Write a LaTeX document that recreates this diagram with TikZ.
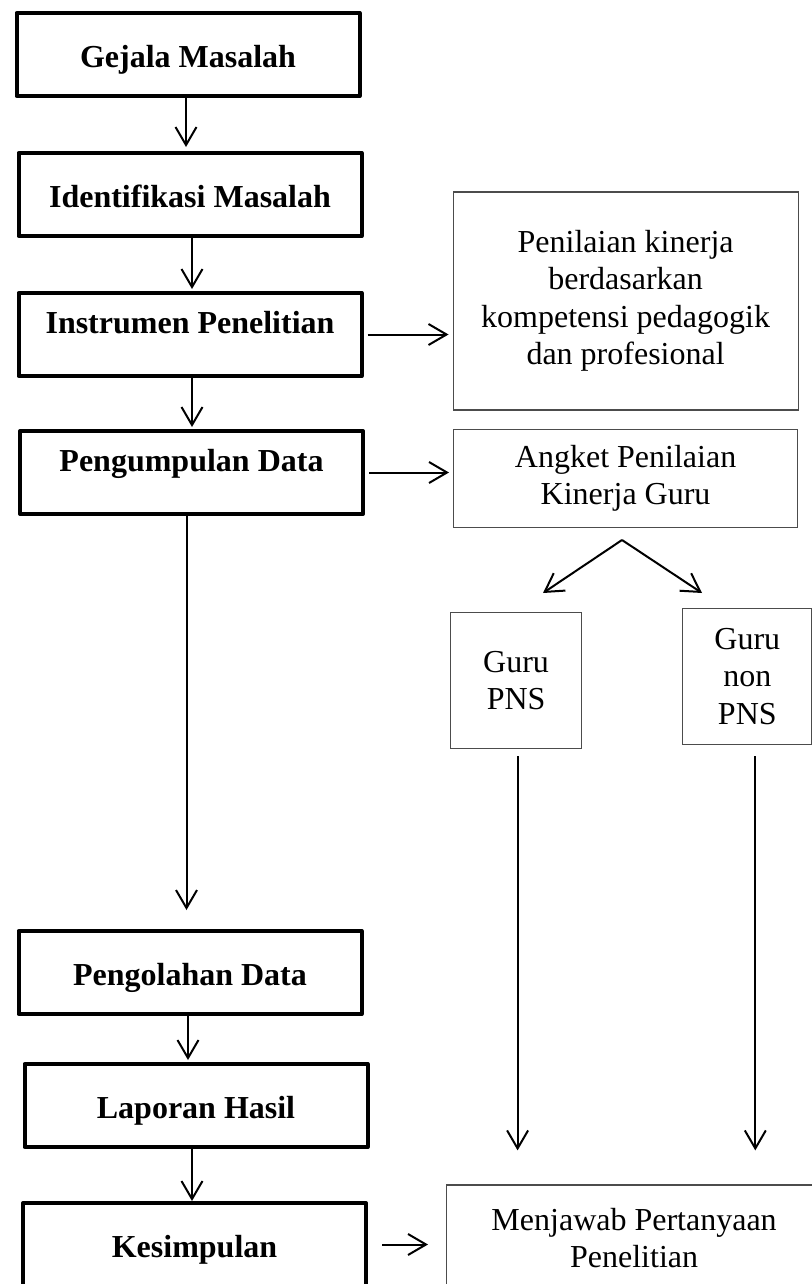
\documentclass[tikz,border=0pt]{standalone}
\usepackage{fontspec}
\setmainfont{Liberation Serif}
\usetikzlibrary{positioning}
\usetikzlibrary{arrows.meta}

\begin{document}
\begin{tikzpicture}[x=0.5pt,y=-0.5pt,
      font=\fontsize{16}{18.75}\selectfont,
      main style/.style={rectangle,draw=black,line width=2pt,line join=round,
        minimum width=171.5pt,minimum height=41.5pt,inner sep=0pt,
        font=\fontsize{16}{18.75}\selectfont\bfseries,text height=14pt,text depth=1pt},
      info style/.style={rectangle,draw=black!70,line width=0.6pt,align=center,
        inner sep=0pt},
      flow/.style={line width=1pt,-{Straight Barb[length=9pt,width=10.5pt]}}
      ]
      \useasboundingbox (0,0) rectangle (812,1284);
      \clip (0,0) rectangle (812,1284);

      % main column
      \node[main style] (gejala) at (188,54.5) {Gejala Masalah};
      \node[main style,below=26.5pt of gejala,xshift=1pt] (identifikasi) {Identifikasi Masalah};
      \node[main style,text depth=15pt,below=26.5pt of identifikasi] (instrumen) {Instrumen Penelitian};
      \node[main style,text depth=15pt,below=25.5pt of instrumen,xshift=0.75pt] (pengumpulan) {Pengumpulan Data};
      \node[main style,below=206.5pt of pengumpulan,xshift=-0.75pt] (pengolahan) {Pengolahan Data};
      \node[main style,below=23pt of pengolahan,xshift=3pt] (laporan) {Laporan Hasil};
      \node[main style,below=26pt of laporan,xshift=-0.75pt] (kesimpulan) {Kesimpulan};

      % right column
      \node[info style,minimum width=172.5pt,minimum height=109pt,
        right=44.5pt of instrumen,yshift=16.75pt] (penilaian)
        {Penilaian kinerja\\berdasarkan\\kompetensi pedagogik\\dan profesional};
      \node[info style,minimum width=172pt,minimum height=49pt,
        below=9pt of penilaian] (angket) {Angket Penilaian\\Kinerja Guru};
      \node[info style,minimum width=65.5pt,minimum height=68pt,
        below=42pt of angket.south west,anchor=north west,xshift=-1.5pt] (pns) {Guru\\PNS};
      \node[info style,minimum width=64.5pt,minimum height=68pt,
        right=50pt of pns,yshift=2pt] (nonpns) {Guru\\non\\PNS};
      \node[info style,minimum width=187.5pt,minimum height=53pt,
        right=39pt of kesimpulan,yshift=3.25pt] (menjawab) {Menjawab Pertanyaan\\Penelitian};

      \coordinate (fork) at (622,540);
      \coordinate (forkL) at (543,593);
      \coordinate (forkR) at (702,593);

      \draw[flow,shorten >=2pt] ([xshift=-1pt]gejala.south) -- ([xshift=-1pt]gejala.south |- identifikasi.north);
      \draw[flow,shorten >=1pt] ([xshift=1pt]identifikasi.south) -- ([xshift=1pt]identifikasi.south |- instrumen.north);
      \draw[flow,shorten >=1pt] ([xshift=1pt]instrumen.south) -- ([xshift=1pt]instrumen.south |- pengumpulan.north);
      \draw[flow,shorten >=9.5pt] ([xshift=-2.5pt]pengumpulan.south) -- ([xshift=-2.5pt]pengumpulan.south |- pengolahan.north);
      \draw[flow,shorten >=1pt] ([xshift=-1pt]pengolahan.south) -- ([xshift=-1pt]pengolahan.south |- laporan.north);
      \draw[flow] ([xshift=-2pt]laporan.south) -- ([xshift=-2pt]laporan.south |- kesimpulan.north);

      \draw[flow,shorten <=2pt,shorten >=2pt] (instrumen.east) -- (instrumen.east -| penilaian.west);
      \draw[flow,shorten <=2pt,shorten >=2pt] (pengumpulan.east) -- (pengumpulan.east -| angket.west);
      \draw[flow] (fork) -- (forkL);
      \draw[flow] (fork) -- (forkR);
      \draw[flow,shorten <=3.5pt,shorten >=17pt] ([xshift=0.75pt]pns.south) -- ([xshift=0.75pt]pns.south |- menjawab.north);
      \draw[flow,shorten <=5.5pt,shorten >=17pt] ([xshift=4pt]nonpns.south) -- ([xshift=4pt]nonpns.south |- menjawab.north);
      \draw[flow,shorten <=7pt,shorten >=9pt] (kesimpulan.east) -- (kesimpulan.east -| menjawab.west);

    \end{tikzpicture}
\end{document}
